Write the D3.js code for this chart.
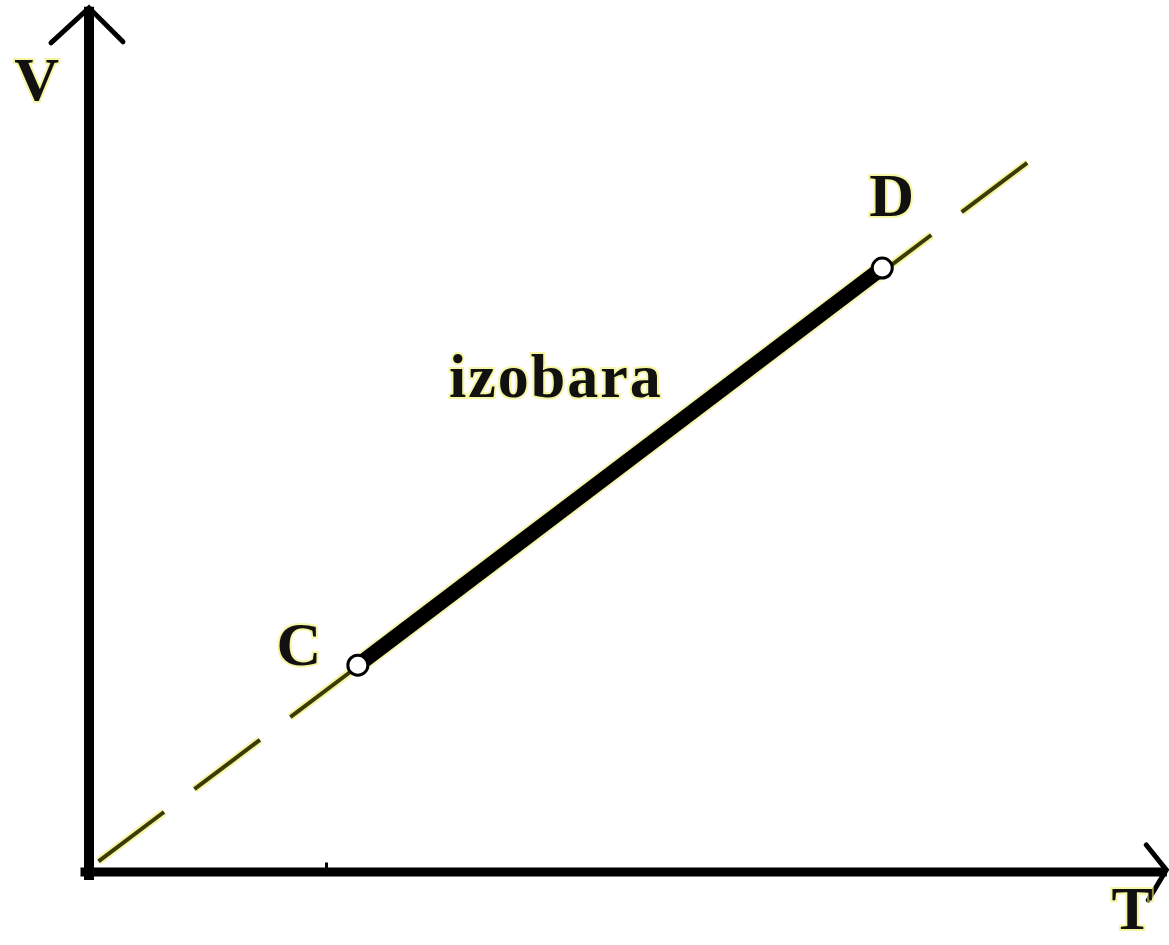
<!DOCTYPE html>
<html>
<head>
<meta charset="utf-8">
<script src="https://cdn.jsdelivr.net/npm/d3@7"></script>
<style>
  html, body { margin: 0; padding: 0; background: #fff; }
  svg { display: block; }
</style>
</head>
<body>
<div id="chart"></div>
<script>
// isobaric process C -> D in V-T coordinates
const pointNames = ['C', 'D']
const pointT = [2.83, 8.35]
const pointV = [2.9, 8.47]
// dashed isobar V ~ T through the origin
const isobarT = [0.1, 10.03]
const isobarV = [0.15, 10.1]
const axisMax = { T: 11.34, V: 12.12 }
const axisLabels = ['T', 'V']
const processLabel = 'izobara'
const labelT = [2.21, 8.45, 3.79, 10.98, -0.55]
const labelV = [2.9, 9.2, 6.66, -0.8, 10.83]
const labelText = ['C', 'D', processLabel, axisLabels[0], axisLabels[1]]
const labelAnchor = ['middle', 'middle', 'start', 'middle', 'middle']
const labelSpacing = [0, 0, 2, 0, 0]

const width = 1169, height = 945
const svg = d3.select('#chart').append('svg')
    .attr('width', width)
    .attr('height', height)

const xScale = d3.scaleLinear().domain([0, 10]).range([89, 1039])
const yScale = d3.scaleLinear().domain([0, 10]).range([872, 159])

const halo = '#eeee66'

// dashed isobar: yellow glow then olive dashes
const isoLine = d3.line()
    .x(d => xScale(d[0]))
    .y(d => yScale(d[1]))
const isoData = d3.zip(isobarT, isobarV)
svg.append('path')
    .attr('d', isoLine(isoData))
    .attr('fill', 'none')
    .attr('stroke', halo)
    .attr('stroke-width', 8)
    .attr('stroke-opacity', 0.6)
    .attr('stroke-dasharray', '82 38')
svg.append('path')
    .attr('d', isoLine(isoData))
    .attr('fill', 'none')
    .attr('stroke', '#3b3b08')
    .attr('stroke-width', 4)
    .attr('stroke-dasharray', '82 38')

// axes
const x0 = xScale(0), y0 = yScale(0)
const xEnd = xScale(axisMax.T), yEnd = yScale(axisMax.V)
const axes = svg.append('g')
    .attr('stroke', '#000')
    .attr('fill', 'none')
    .attr('stroke-linecap', 'square')

axes.append('line')
    .attr('x1', x0).attr('y1', y0 + 3)
    .attr('x2', x0).attr('y2', yEnd + 4)
    .attr('stroke-width', 10)
axes.append('line')
    .attr('x1', x0 - 4).attr('y1', y0)
    .attr('x2', xEnd - 4).attr('y2', y0)
    .attr('stroke-width', 9)

// arrow heads
axes.append('polyline')
    .attr('points', [[x0 - 38, yEnd + 35], [x0, yEnd], [x0 + 34, yEnd + 34]].join(' '))
    .attr('stroke-width', 5)
    .attr('stroke-linecap', 'round')
    .attr('stroke-linejoin', 'miter')
axes.append('polyline')
    .attr('points', [[xEnd - 20, y0 - 27], [xEnd, y0 - 2], [xEnd - 18, y0 + 28]].join(' '))
    .attr('stroke-width', 5)
    .attr('stroke-linecap', 'round')

// small mark on the T axis
axes.append('line')
    .attr('x1', xScale(2.5)).attr('y1', y0 - 8)
    .attr('x2', xScale(2.5)).attr('y2', y0)
    .attr('stroke-width', 3)

// the process segment C -> D
const procData = d3.zip(pointT, pointV)
svg.append('path')
    .attr('d', isoLine(procData))
    .attr('fill', 'none')
    .attr('stroke', halo)
    .attr('stroke-opacity', 0.5)
    .attr('stroke-width', 19)
svg.append('path')
    .attr('d', isoLine(procData))
    .attr('fill', 'none')
    .attr('stroke', '#000')
    .attr('stroke-width', 15)

svg.selectAll('circle.state')
    .data(procData)
    .enter()
    .append('circle')
    .attr('class', 'state')
    .attr('cx', d => xScale(d[0]))
    .attr('cy', d => yScale(d[1]))
    .attr('r', 10)
    .attr('fill', '#fff')
    .attr('stroke', '#000')
    .attr('stroke-width', 3)

// labels
svg.selectAll('text.lbl')
    .data(labelText)
    .enter()
    .append('text')
    .attr('class', 'lbl')
    .attr('x', (d, i) => xScale(labelT[i]))
    .attr('y', (d, i) => yScale(labelV[i]))
    .attr('text-anchor', (d, i) => labelAnchor[i])
    .attr('letter-spacing', (d, i) => labelSpacing[i])
    .attr('font-family', '"Liberation Serif", "DejaVu Serif", serif')
    .attr('font-weight', 'bold')
    .attr('font-size', 62)
    .attr('fill', '#111')
    .attr('stroke', halo)
    .attr('stroke-opacity', 0.6)
    .attr('stroke-width', 4)
    .attr('paint-order', 'stroke')
    .text(d => d)
</script>
</body>
</html>
